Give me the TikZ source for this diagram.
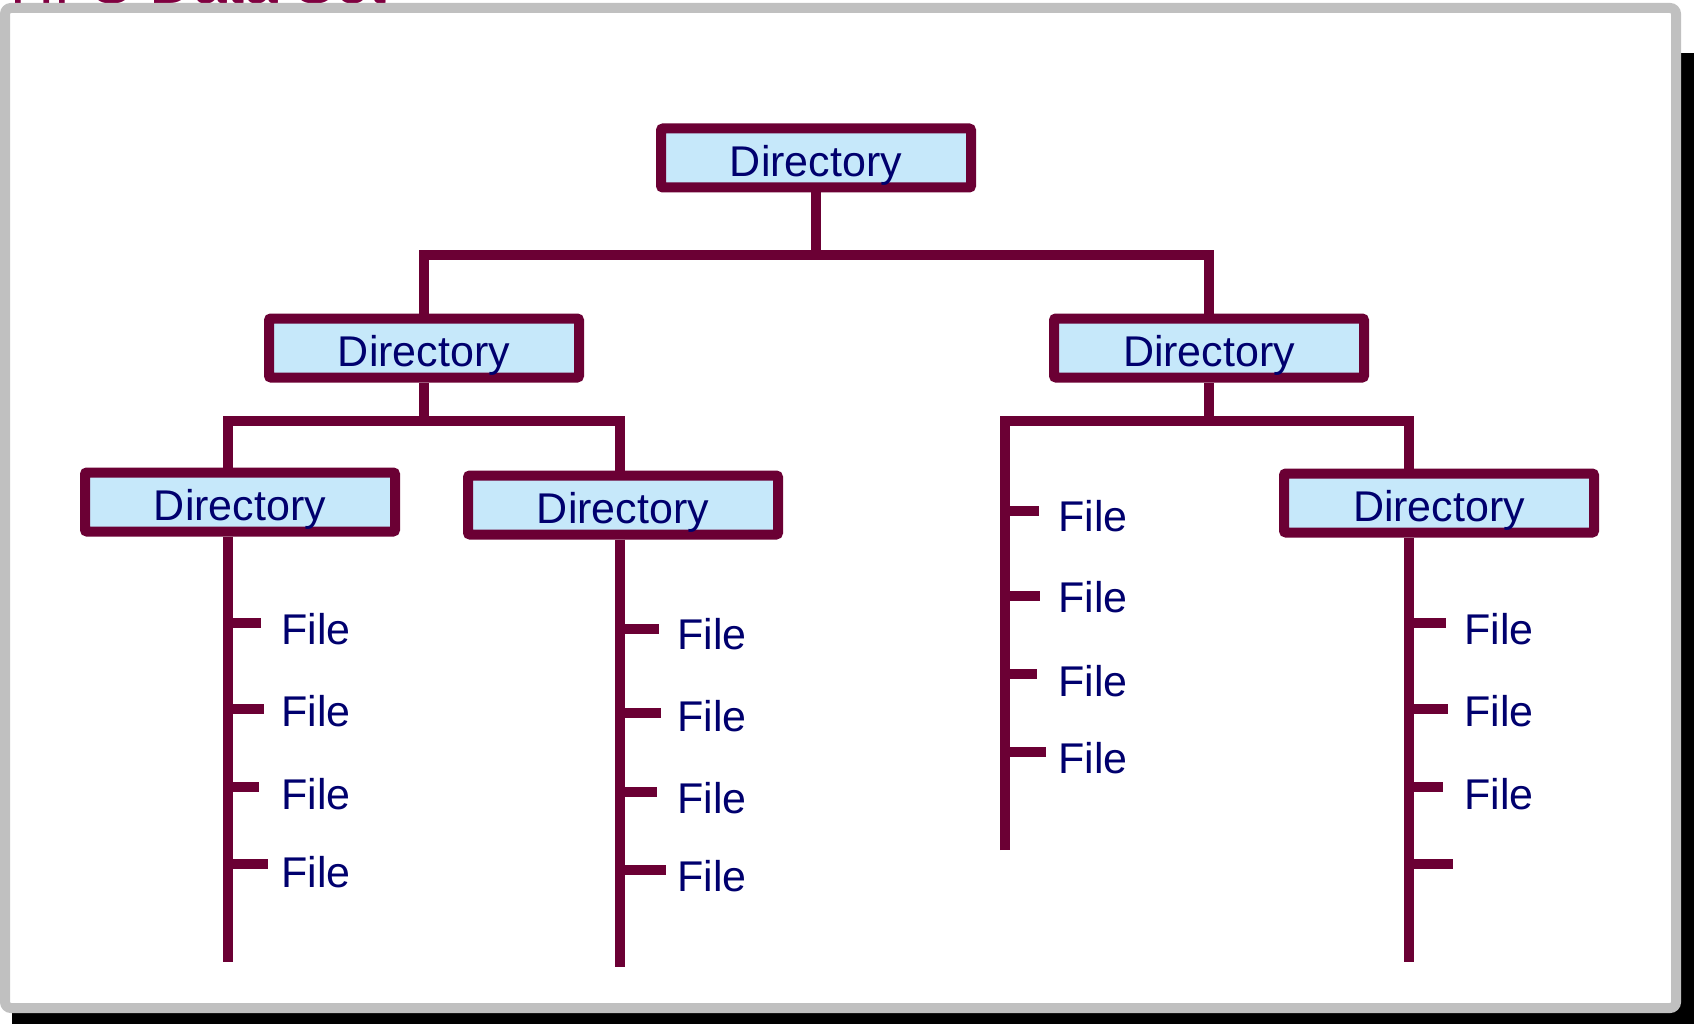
\documentclass[tikz,border=0pt]{standalone}
\usepackage{fontspec}
\setmainfont{Liberation Sans}
\usepackage{tikz}

\definecolor{linemaroon}{RGB}{107,0,52}
\definecolor{titlemaroon}{RGB}{128,0,64}
\definecolor{boxblue}{RGB}{198,232,250}
\definecolor{textnavy}{RGB}{0,0,110}
\definecolor{framegray}{RGB}{192,192,192}

\tikzset{
  dirbox/.style={draw=linemaroon, line width=10pt, fill=boxblue, text=textnavy,
    minimum width=310pt, minimum height=59pt, inner sep=0pt,
    text height=37pt, text depth=0pt, rounded corners=2pt,
    font=\fontsize{43}{50}\selectfont},
  filelabel/.style={text=textnavy, inner sep=0pt, anchor=west,
    font=\fontsize{43}{50}\selectfont},
  branch/.style={draw=linemaroon, line width=10pt},
}

\begin{document}
\begin{tikzpicture}[x=1pt,y=-1pt]
      \useasboundingbox (0,0) rectangle (1694,1024);
      % shadow, title and frame
      \fill [black] (12,53) rectangle (1700,1030);
      \node [anchor=base west, inner sep=0pt, text=titlemaroon,
        font=\fontsize{61}{70}\selectfont] (title) at (10,4) {HFS Data Set};
      \draw [framegray, line width=10pt, fill=white, rounded corners=6pt] (5,8) rectangle (1676,1008);

      % directories
      \node [dirbox] (root) at (816,158) {Directory};
      \node [dirbox] (dL) at (424,348) {Directory};
      \node [dirbox] (dR) at (1209,348) {Directory};
      \node [dirbox] (dLL) at (240,502) {Directory};
      \node [dirbox] (dLR) at (623,505) {Directory};
      \node [dirbox] (dRR) at (1439,503) {Directory};

      % bars and spines
      \coordinate (bar0) at (0,255);
      \coordinate (bar1) at (0,421);
      \coordinate (bar2) at (0,421);
      \coordinate (sLL) at (228,962);
      \coordinate (sLR) at (620,967);
      \coordinate (sR) at (1005,850);
      \coordinate (sRR) at (1409,962);

      \draw [branch] (root.south) -- (root.south |- bar0);
      \draw [branch] (dL.north) -- (dL.north |- bar0) -- (dR.north |- bar0) -- (dR.north);

      \draw [branch] (dL.south) -- (dL.south |- bar1);
      \draw [branch] (dLL.north -| sLL) -- (sLL |- bar1) -- (sLR |- bar1) -- (dLR.north -| sLR);
      \draw [branch] (dLL.south -| sLL) -- (sLL);
      \draw [branch] (dLR.south -| sLR) -- (sLR);

      \draw [branch] (dR.south) -- (dR.south |- bar2);
      \draw [branch] (sR) -- (sR |- bar2) -- (sRR |- bar2) -- (dRR.north -| sRR);
      \draw [branch] (dRR.south -| sRR) -- (sRR);

      % files
      \foreach \ty/\te/\ly [count=\i] in {623/261/629, 709/264/711, 787/259/794, 864/268/872} {
        \node [filelabel] (fLL\i) at (281,\ly) {File};
        \coordinate (tLL\i) at (\te,\ty);
        \draw [branch] (sLL |- tLL\i) -- (tLL\i);
      }
      \foreach \ty/\te/\ly [count=\i] in {629/659/634, 713/661/716, 792/657/798, 870/666/876} {
        \node [filelabel] (fLR\i) at (677,\ly) {File};
        \coordinate (tLR\i) at (\te,\ty);
        \draw [branch] (sLR |- tLR\i) -- (tLR\i);
      }
      \foreach \ty/\te/\ly [count=\i] in {511/1039/516, 596/1040/597, 674/1037/681, 752/1046/758} {
        \node [filelabel] (fR\i) at (1058,\ly) {File};
        \coordinate (tR\i) at (\te,\ty);
        \draw [branch] (sR |- tR\i) -- (tR\i);
      }
      \foreach \ty/\te/\ly [count=\i] in {623/1446/629, 709/1448/711, 787/1443/794} {
        \node [filelabel] (fRR\i) at (1464,\ly) {File};
        \coordinate (tRR\i) at (\te,\ty);
        \draw [branch] (sRR |- tRR\i) -- (tRR\i);
      }
      \coordinate (tRR4) at (1453,864);
      \draw [branch] (sRR |- tRR4) -- (tRR4);
    \end{tikzpicture}
\end{document}
